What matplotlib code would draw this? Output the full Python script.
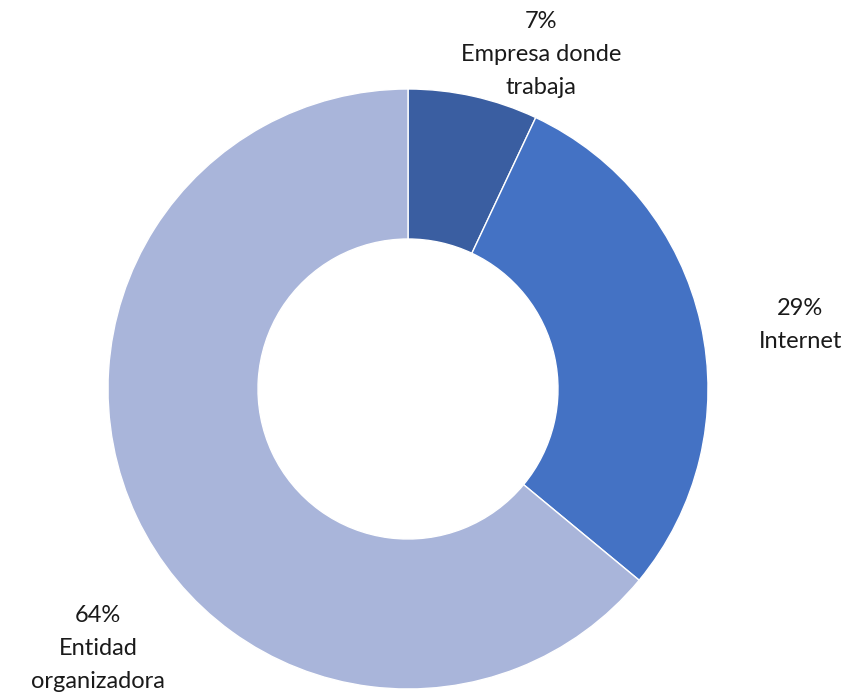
import matplotlib.pyplot as plt

# --- datos ---
categorias = ["Empresa donde\ntrabaja", "Internet", "Entidad\norganizadora"]
porcentajes = [7, 29, 64]
colores = ["#3A5EA1", "#4472C4", "#A9B5DA"]

# posiciones de las etiquetas (coordenadas del eje, radio = 1)
pos_etiquetas = [(0.443, 1.115), (1.307, 0.213), (-1.033, -0.865)]

fig = plt.figure(figsize=(8.49, 6.96), dpi=100)
ax = fig.add_axes([108 / 849, 7 / 696, 600 / 849, 600 / 696])

ax.pie(
    porcentajes,
    colors=colores,
    startangle=90,
    counterclock=False,
    radius=1.0,
    wedgeprops=dict(width=0.5, edgecolor="white", linewidth=1),
)

for cat, val, (x, y) in zip(categorias, porcentajes, pos_etiquetas):
    ax.text(x, y, f"{val}%\n{cat}", ha="center", va="center",
            fontsize=17, color="#1a1a1a", family="Lato",
            linespacing=1.72, clip_on=False)

ax.set_xlim(-1, 1)
ax.set_ylim(-1, 1)
ax.set_aspect("equal")
ax.axis("off")

fig.savefig("out.png", dpi=100)
plt.close(fig)
